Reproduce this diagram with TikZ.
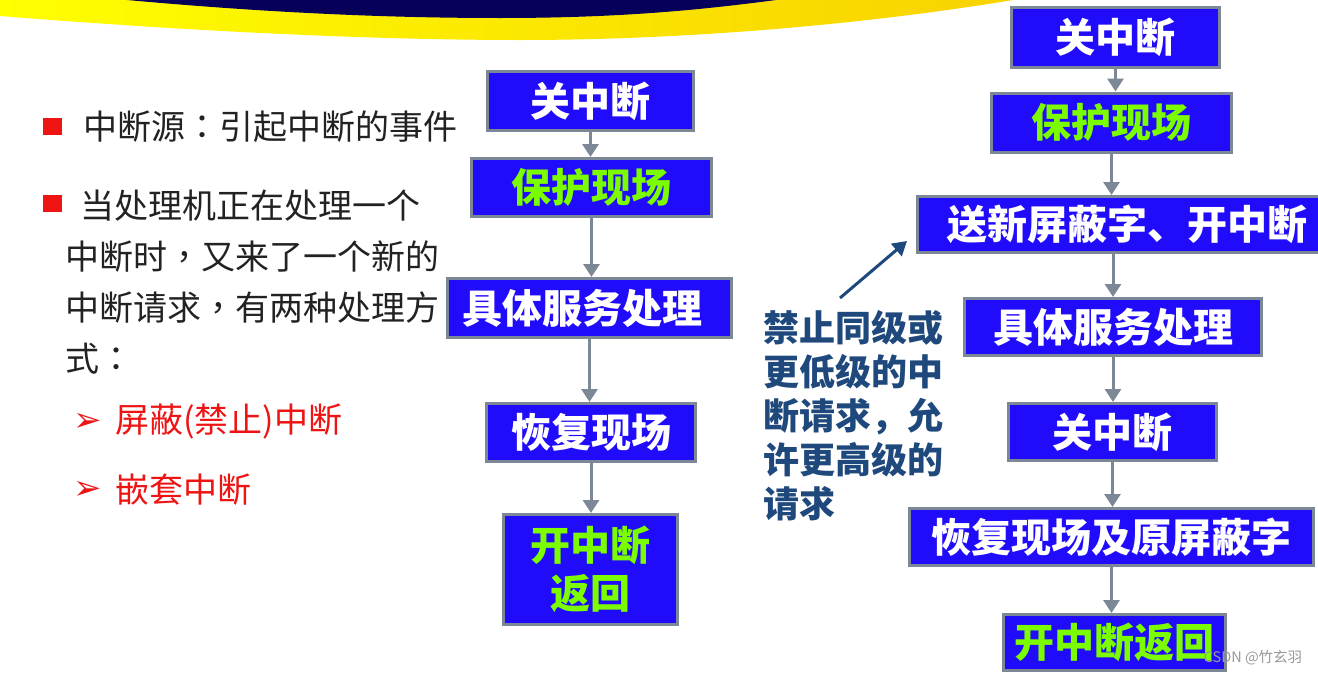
\documentclass[tikz,border=0pt]{standalone}
\usepackage{fontspec}
\setmainfont{Noto Sans CJK SC}
\newfontfamily\symfont{DejaVu Sans}
\newfontfamily\tcfont{Noto Sans CJK TC}
\newcommand\midpunct[1]{{\tcfont #1}}
\usetikzlibrary{arrows.meta}
\definecolor{boxblue}{RGB}{32,12,250}
\definecolor{boxgray}{RGB}{125,136,150}
\definecolor{litegreen}{RGB}{124,252,0}
\definecolor{notenavy}{RGB}{31,73,125}
\definecolor{bulletred}{RGB}{238,20,20}
\definecolor{bandnavy}{RGB}{6,0,90}
\definecolor{bandgold}{RGB}{248,210,0}
\definecolor{bodytext}{RGB}{34,34,34}
\tikzset{%
	stepbox/.style={draw=boxgray, line width=3pt, fill=boxblue, inner sep=0pt, text=white, align=center, font=\fontsize{40pt}{48pt}\selectfont\bfseries},
	greenbox/.style={stepbox, text=litegreen},
	boxsize/.style 2 args={minimum width=#1pt, minimum height=#2pt},
	flow/.style={draw=boxgray, line width=3pt, -{Triangle[width=16pt,length=13pt]}},
	pointer/.style={draw=notenavy, line width=3pt, -{Triangle[width=16pt,length=14pt]}},
	body/.style={inner sep=0pt, text=bodytext, font=\fontsize{34pt}{51pt}\selectfont},
	redtext/.style={body, text=bulletred},
	remark/.style={inner sep=0pt, text=notenavy, align=left, font=\fontsize{36pt}{44pt}\selectfont\bfseries}
}

\begin{document}
\begin{tikzpicture}[x=1pt, y=-1pt]
	\useasboundingbox (0,0) rectangle (1318,675);

	% title band
	\shade[left color=yellow, right color=bandgold] (0,0) -- (0,16) .. controls (200,32) and (380,40) .. (520,40) .. controls (700,40) and (880,22) .. (1013,0) -- cycle;
	\fill[bandnavy] (127,0) .. controls (260,12) and (380,18) .. (500,18) .. controls (620,18) and (700,10) .. (776,0) -- cycle;

	% left text
	\fill[bulletred] (43,118) rectangle (62,135);
	\fill[bulletred] (43,195) rectangle (62,212);
	\node[body, anchor=west] (src) at (83,127) {中断源\midpunct{：}引起中断的事件};
	\node[body, anchor=north west, align=left] (para) at (65,190) {\hspace*{15pt}当处理机正在处理一个\\中断时\midpunct{，}又来了一个新的\\中断请求\midpunct{，}有两种处理方\\式\midpunct{：}};
	\node[redtext, font=\fontsize{34pt}{40pt}\selectfont\symfont] (m1) at (88,422) {➢};
	\node[redtext, anchor=west] (mask) at (115,422) {屏蔽(禁止)中断};
	\node[redtext, font=\fontsize{34pt}{40pt}\selectfont\symfont] (m2) at (88,490) {➢};
	\node[redtext, anchor=west] (nest) at (115,490) {嵌套中断};

	% left flow
	\node[stepbox, boxsize={206}{59}] (l1) at (590.5,101) {关中断};
	\node[greenbox, boxsize={240}{58}] (l2) at (591.5,187.5) {保护现场};
	\node[stepbox, boxsize={284}{59}] (l3) at (589.5,308) {具体服务处理\hspace*{14pt}};
	\node[stepbox, boxsize={209}{58}] (l4) at (591,432.5) {恢复现场};
	\node[greenbox, boxsize={174}{110}] (l5) at (590.5,569.5) {开中断\\返回};

	\draw[flow] (l1.south) -- (l1.south |- l2.north);
	\draw[flow] (l2.south) -- (l2.south |- l3.north);
	\draw[flow] (l3.south) -- (l3.south |- l4.north);
	\draw[flow] (l4.south) -- (l4.south |- l5.north);

	% right flow
	\node[stepbox, boxsize={208}{60}] (r1) at (1115.5,37) {关中断};
	\node[greenbox, boxsize={240}{59}] (r2) at (1111.5,122.5) {保护现场};
	\node[stepbox, boxsize={419}{56}] (r3) at (1127,224.5) {送新屏蔽字、开中断};
	\node[stepbox, boxsize={297}{57}] (r4) at (1113,327) {具体服务处理};
	\node[stepbox, boxsize={208}{57}] (r5) at (1112.5,432) {关中断};
	\node[stepbox, boxsize={404}{57}] (r6) at (1111.5,537) {恢复现场及原屏蔽字};
	\node[greenbox, boxsize={222}{56}] (r7) at (1114.5,642.5) {开中断返回};

	\draw[flow] (r1.south) -- (r1.south |- r2.north);
	\draw[flow] (r2.south) -- (r2.south |- r3.north);
	\draw[flow] (r3.south -| r4.north) -- (r4.north);
	\draw[flow] (r4.south) -- (r4.south |- r5.north);
	\draw[flow] (r5.south) -- (r5.south |- r6.north);
	\draw[flow] (r6.south) -- (r6.south |- r7.north);

	% note
	\node[remark, anchor=north west] (note) at (763,310) {禁止同级或\\更低级的中\\断请求，允\\许更高级的\\请求};
	\coordinate (tail) at (840,298);
	\coordinate (head) at (907,241);
	\draw[pointer] (tail) -- (head);

	\node[inner sep=0pt, text=black!40, font=\fontsize{14.5pt}{16pt}\selectfont] (mark) at (1253,657.5) {CSDN @竹玄羽};
\end{tikzpicture}
\end{document}
